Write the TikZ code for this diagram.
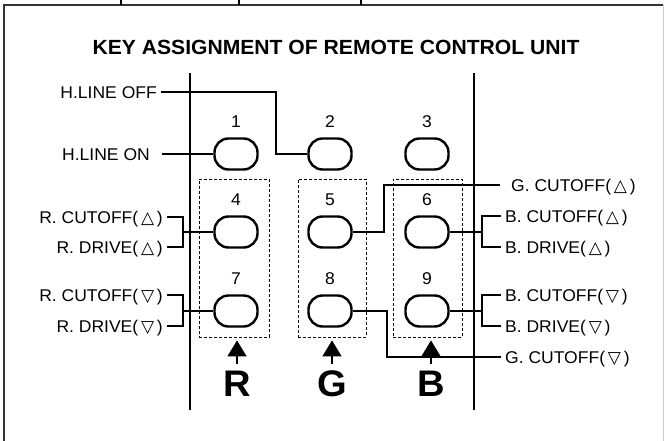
\documentclass[tikz,border=0pt]{standalone}
\usepackage{fontspec}
\setmainfont{Liberation Sans}[FakeStretch=1.03]
\newfontfamily\symfont{DejaVu Sans}
\usetikzlibrary{positioning,arrows.meta}
\newcommand{\triup}{\,{\symfont △}\,}
\newcommand{\tridn}{\,{\symfont ▽}\,}
\tikzset{
  key/.style={draw,line width=2.4pt,rounded corners=14pt,minimum width=43pt,minimum height=31pt,inner sep=0pt},
  num/.style={font=\fontsize{17}{19}\selectfont,inner sep=0pt,text height=12.2pt,text depth=0pt},
  lbl/.style={font=\fontsize{17}{19}\selectfont,inner sep=4pt,text height=12.2pt,text depth=0pt},
  wire/.style={line width=1.1pt},
  rail/.style={line width=2.2pt},
  grpbox/.style={draw,dash pattern=on 3pt off 2pt,line width=0.8pt,minimum height=158pt,inner sep=0pt},
  chan/.style={font=\bfseries\fontsize{37}{40}\selectfont,inner sep=0pt,text height=26.5pt,text depth=0pt},
  pick/.style={line width=1.5pt,-{Triangle[width=19pt,length=16pt]},shorten <=6pt,shorten >=3pt}
}
\begin{document}
\begin{tikzpicture}[x=1pt,y=-1pt]
  \useasboundingbox (0,0) rectangle (664,441);
  % frame and table stubs
  \draw[line width=1.6pt,black!80] (4,441) -- (4,5) -- (663,5);
  \draw[gray!40] (663,5) -- (663,441);
  \foreach \x in {121,239,361} \draw[line width=1.2pt] (\x,0) -- (\x,5);
  \node[font=\bfseries\fontsize{20.5}{23}\selectfont,anchor=base] (title) at (336,55)
    {KEY ASSIGNMENT OF REMOTE CONTROL UNIT};
  % remote body
  \draw[rail] (190,73) -- (190,410);
  \draw[rail] (474,73) -- (474,410);
  \node[grpbox,minimum width=70pt] (boxR) at (234,258) {};
  \node[grpbox,minimum width=68pt] (boxG) at (332,258) {};
  \node[grpbox,minimum width=69pt] (boxB) at (427.5,258) {};
  \foreach \k/\x/\y in {1/236/154,2/330/154,3/427/154,4/236/232,5/330/232,
                        6/427/232,7/236/311,8/330/311,9/427/311}{
    \node[key] (b\k) at (\x,\y) {};
    \node[num,above=10pt of b\k] (n\k) {\k};
  }
  % left labels
  \node[lbl,anchor=east] (hoff) at (161,92) {H.LINE OFF};
  \node[lbl,anchor=east] (hon) at (154,154) {H.LINE ON};
  \node[lbl,anchor=east] (rcutup) at (167,217) {R. CUTOFF(\triup)};
  \node[lbl,anchor=east] (rdrvup) at (167,247) {R. DRIVE(\triup)};
  \node[lbl,anchor=east] (rcutdn) at (167,295) {R. CUTOFF(\tridn)};
  \node[lbl,anchor=east] (rdrvdn) at (167,326) {R. DRIVE(\tridn)};
  % right labels
  \node[lbl,anchor=west] (gcutup) at (507,185) {G. CUTOFF(\triup)};
  \node[lbl,anchor=west] (bcutup) at (501,216) {B. CUTOFF(\triup)};
  \node[lbl,anchor=west] (bdrvup) at (501,247) {B. DRIVE(\triup)};
  \node[lbl,anchor=west] (bcutdn) at (501,295) {B. CUTOFF(\tridn)};
  \node[lbl,anchor=west] (bdrvdn) at (501,326) {B. DRIVE(\tridn)};
  \node[lbl,anchor=west] (gcutdn) at (501,357) {G. CUTOFF(\tridn)};
  % wiring
  \coordinate (hj) at (276,92);
  \coordinate (jR4) at (183,232);
  \coordinate (jR7) at (183,311);
  \coordinate (jG5) at (384,185);
  \coordinate (jG8) at (387,357);
  \coordinate (jB6) at (482,232);
  \coordinate (jB9) at (482,311);
  \draw[wire] (hoff.east) -- (hj) |- (b2.west);
  \draw[wire] ([xshift=8pt]hon.east) -- (b1.west);
  \draw[wire] (rcutup.east) -| (jR4) |- (rdrvup.east);
  \draw[wire] (jR4) -- (b4.west);
  \draw[wire] (rcutdn.east) -| (jR7) |- (rdrvdn.east);
  \draw[wire] (jR7) -- (b7.west);
  \draw[wire] (b5.east) -| (jG5) -- ([xshift=-7pt]gcutup.west);
  \draw[wire] (b8.east) -| (jG8) -- (gcutdn.west);
  \draw[wire] (bcutup.west) -| (jB6) |- (bdrvup.west);
  \draw[wire] (b6.east) -- (jB6);
  \draw[wire] (bcutdn.west) -| (jB9) |- (bdrvdn.west);
  \draw[wire] (b9.east) -- (jB9);
  % colour groups
  \node[chan] (R) at (237,383.5) {R};
  \node[chan] (G) at (332,383.5) {G};
  \node[chan] (B) at (431,383.5) {B};
  \draw[pick] (R.north) -- (R.north |- boxR.south);
  \draw[pick] (G.north) -- (G.north |- boxG.south);
  \draw[pick] (B.north) -- (B.north |- boxB.south);
\end{tikzpicture}
\end{document}
